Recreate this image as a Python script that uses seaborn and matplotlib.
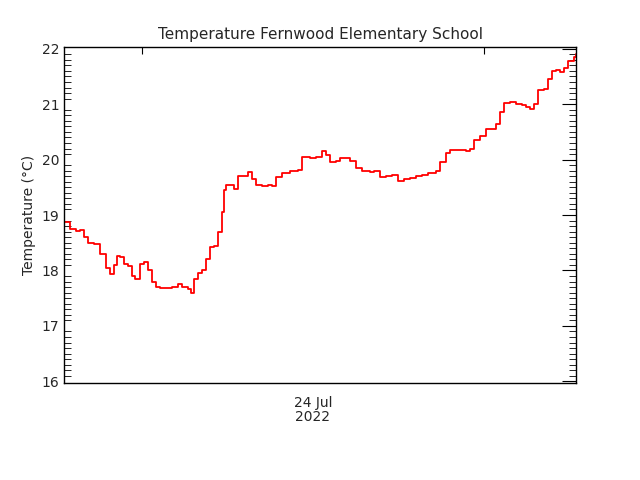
import datetime
import numpy as np
import pandas as pd
import seaborn as sns
import matplotlib
matplotlib.use("Agg")
import matplotlib.pyplot as plt
import matplotlib.dates as mdates
from matplotlib.ticker import MultipleLocator

start = datetime.datetime(2022, 7, 23, 6, 30)
end = start + datetime.timedelta(minutes=2160)

# minutes since start, temperature in degC
minutes = [0, 25, 51, 68, 84, 101, 127, 152, 177, 194, 211, 224, 236, 253, 270, 287,
           300, 321, 338, 354, 371, 388, 405, 430, 456, 481, 498, 523, 536, 549, 565,
           582, 599, 616, 633, 650, 667, 675, 684, 700, 717, 734, 760, 776, 793, 810,
           835, 861, 878, 895, 920, 954, 987, 1004, 1038, 1063, 1089, 1106, 1122, 1148,
           1165, 1190, 1207, 1232, 1258, 1291, 1308, 1334, 1359, 1384, 1409, 1435, 1460,
           1485, 1511, 1536, 1570, 1587, 1612, 1629, 1663, 1696, 1713, 1730, 1756, 1781,
           1806, 1823, 1840, 1857, 1882, 1907, 1933, 1950, 1966, 1983, 2000, 2026, 2043,
           2059, 2076, 2093, 2110, 2127, 2152, 2160]
temps = [18.88, 18.75, 18.72, 18.73, 18.6, 18.5, 18.48, 18.3, 18.05, 17.93, 18.1, 18.27,
         18.25, 18.12, 18.08, 17.9, 17.85, 18.12, 18.15, 18.0, 17.8, 17.7, 17.68, 17.68,
         17.7, 17.76, 17.7, 17.66, 17.6, 17.85, 17.95, 18.0, 18.2, 18.42, 18.45, 18.7,
         19.05, 19.45, 19.55, 19.55, 19.47, 19.7, 19.7, 19.78, 19.65, 19.55, 19.52, 19.55,
         19.52, 19.68, 19.75, 19.8, 19.82, 20.05, 20.03, 20.05, 20.16, 20.08, 19.95, 19.97,
         20.03, 20.02, 19.98, 19.85, 19.8, 19.78, 19.8, 19.68, 19.7, 19.72, 19.62, 19.65,
         19.66, 19.7, 19.72, 19.75, 19.8, 19.95, 20.12, 20.17, 20.17, 20.15, 20.2, 20.35,
         20.42, 20.55, 20.55, 20.65, 20.85, 21.02, 21.03, 21.0, 20.98, 20.95, 20.92, 21.0,
         21.25, 21.28, 21.45, 21.6, 21.62, 21.58, 21.65, 21.78, 21.85, 21.9]

df = pd.DataFrame({"time": [start + datetime.timedelta(minutes=m) for m in minutes],
                   "temp": temps})

sns.set_style("white")
plt.rcParams["font.family"] = ["DejaVu Sans"]

fig = plt.figure(figsize=(6.4, 4.8), dpi=100)
ax = fig.add_axes([0.1, 0.202, 0.8, 0.7])
sns.lineplot(data=df, x="time", y="temp", ax=ax, color="red", linewidth=1.3,
             drawstyle="steps-post")

ax.set_xlim(start, end)
ax.set_ylim(15.97, 22.03)
ax.yaxis.set_major_locator(MultipleLocator(1))
ax.yaxis.set_minor_locator(MultipleLocator(0.1))
ax.xaxis.set_major_locator(mdates.HourLocator(byhour=[12]))
ax.xaxis.set_major_formatter(plt.NullFormatter())
ax.tick_params(axis="x", which="major", direction="in", length=5, top=True, color="black")
ax.tick_params(axis="y", which="major", direction="in", length=10, right=True,
               labelsize=10, color="black")
ax.tick_params(axis="y", which="minor", direction="in", length=5, left=True, right=True,
               color="black")
for s in ax.spines.values():
    s.set_color("black")
    s.set_linewidth(1)

ax.set_xlabel("")
ax.set_ylabel("Temperature (°C)", fontsize=10)
ax.set_title("Temperature Fernwood Elementary School", fontsize=11)
ax.text(0.486, -0.04, "24 Jul\n2022", transform=ax.transAxes, ha="center", va="top",
        fontsize=10, linespacing=1.0)

fig.savefig("out.png")
